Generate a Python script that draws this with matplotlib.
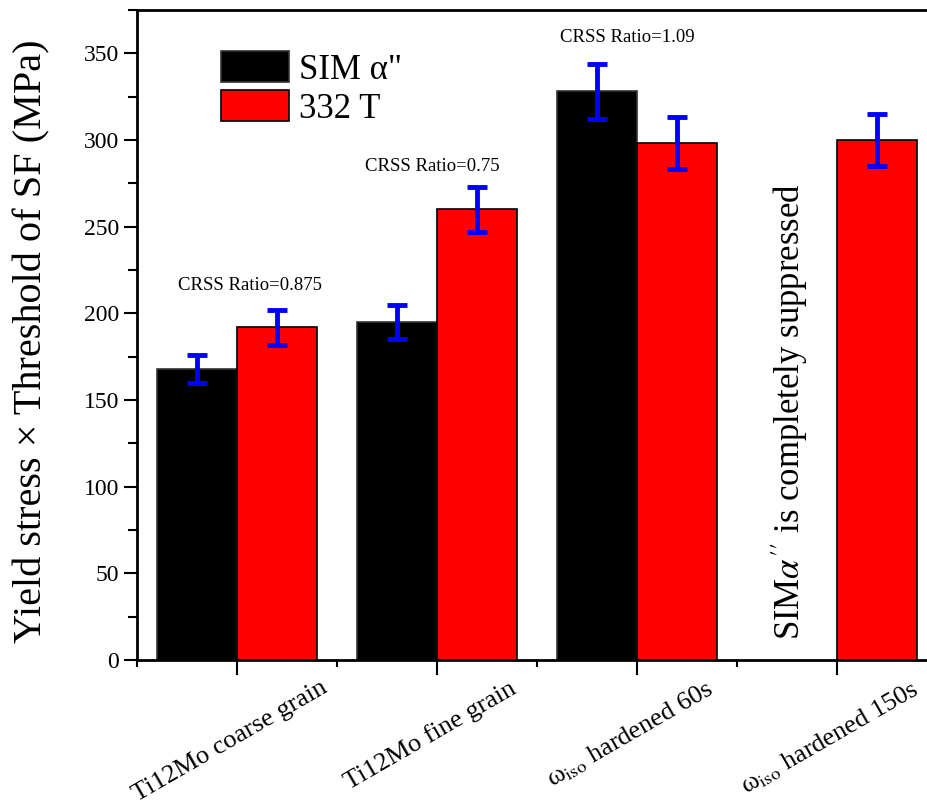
import numpy as np
from matplotlib import pyplot as plt
from matplotlib.ticker import MultipleLocator
from matplotlib.transforms import ScaledTranslation

plt.rcParams['font.family'] = ['Liberation Serif', 'DejaVu Serif']
plt.rcParams['mathtext.fontset'] = 'stix'

categories = ['Ti12Mo coarse grain', 'Ti12Mo fine grain',
              r'ω$_{\rm iso}$ hardened 60s', r'ω$_{\rm iso}$ hardened 150s']
sim_vals = [168, 195, 328]          # SIM α'' (none for 150s)
sim_err = [8, 10, 16]
t332_vals = [192, 260, 298, 300]
t332_err = [10, 13, 15, 15]
ratio_labels = ['CRSS Ratio=0.875', 'CRSS Ratio=0.75', 'CRSS Ratio=1.09']

fig = plt.figure(figsize=(9.27, 8.05), dpi=100)
ax = fig.add_axes([137 / 927, 145 / 805, 800 / 927, 650 / 805])

x = np.arange(1, len(categories) + 1)
w = 0.4
xs = x[:len(sim_vals)]

ax.bar(xs - w / 2, sim_vals, w, color='black', edgecolor='#333333', linewidth=1.2, label='SIM α"')
ax.bar(x + w / 2, t332_vals, w, color='red', edgecolor='black', linewidth=1.2, label='332 T')
ax.errorbar(xs - w / 2, sim_vals, yerr=sim_err, fmt='none', ecolor='blue',
            elinewidth=3.5, capsize=7, capthick=3.5)
ax.errorbar(x + w / 2, t332_vals, yerr=t332_err, fmt='none', ecolor='blue',
            elinewidth=3.5, capsize=7, capthick=3.5)

# CRSS ratio annotations
ratio_y = [211, 280, 354]
ratio_x = [1.065, 1.975, 2.95]
for rx, ry, t in zip(ratio_x, ratio_y, ratio_labels):
    ax.text(rx, ry, t, ha='center', va='bottom', fontsize=13.5)

ax.text(3.765, 143, r"SIM$\alpha''$ is completely suppressed", rotation=90,
        ha='center', va='center', fontsize=25)

ax.set_xlim(0.5, 4.5)
ax.set_ylim(0, 375)
ax.set_xticks(x)
ax.set_xticklabels([])
# category labels drawn under each tick, nudged a little to the left
off = ScaledTranslation(-0.07, -0.17, fig.dpi_scale_trans)
for xi, lab in zip(x, categories):
    ax.text(xi, 0, lab, transform=ax.get_xaxis_transform() + off,
            rotation=30, ha='center', va='top', fontsize=19)
ax.xaxis.set_minor_locator(MultipleLocator(0.5))
ax.yaxis.set_major_locator(MultipleLocator(50))
ax.yaxis.set_minor_locator(MultipleLocator(25))
ax.tick_params(axis='y', which='major', direction='out', length=9.5, width=1.5, labelsize=17)
ax.tick_params(axis='y', which='minor', direction='out', length=6.5, width=1.5)
ax.tick_params(axis='x', which='major', direction='out', length=11, width=1.5)
ax.tick_params(axis='x', which='minor', direction='out', length=5, width=1.5)
for s in ax.spines.values():
    s.set_linewidth(2)

ax.set_ylabel('Yield stress × Threshold of SF (MPa)', fontsize=29)
ax.yaxis.set_label_coords(-0.108, 0.49)

leg = ax.legend(loc='upper left', bbox_to_anchor=(0.088, 0.958), fontsize=25, frameon=False,
                handlelength=1.95, handleheight=1.0, labelspacing=0.1, handletextpad=0.3,
                borderaxespad=0)

fig.savefig('out.png', dpi=100)
